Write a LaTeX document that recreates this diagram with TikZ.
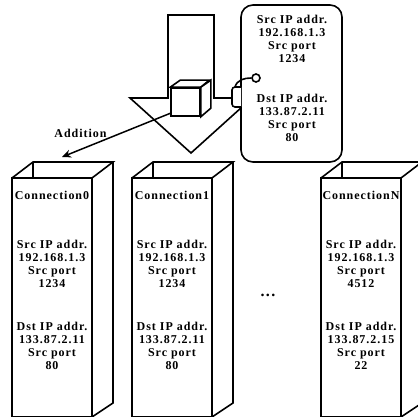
\documentclass[tikz,border=0pt]{standalone}
\usepackage{fontspec}
\usepackage{tikz}
\usetikzlibrary{arrows.meta, calc, positioning}
\newfontfamily\figfont{Liberation Serif}[LetterSpace=8]
\tikzset{
  boxline/.style    = {draw=black, line width=1.6pt, line join=miter},
  boxtext/.style    = {font=\figfont\bfseries\fontsize{12}{13.2}\selectfont,
                       align=center, inner sep=0pt},
  cubeface/.style   = {boxline, fill=white, inner sep=0pt},
  bubble/.style     = {boxline, fill=white, rounded corners=12pt, inner sep=0pt},
  pinhole/.style    = {circle, boxline, fill=white, minimum size=8pt, inner sep=0pt},
  addarrow/.style   = {draw=black, line width=1.5pt, -{Stealth[length=9pt, width=8pt]}},
}
\begin{document}
\begin{tikzpicture}[x=1pt, y=-1pt]
  \useasboundingbox (0,0) rectangle (418,417);
  \clip (0,0) rectangle (418,417);

  % connection boxes
  \foreach \bx/\nm/\sip/\sport/\dip/\dport in {
      12/0/192.168.1.3/1234/133.87.2.11/80,
      132/1/192.168.1.3/1234/133.87.2.11/80,
      321/N/192.168.1.3/4512/133.87.2.15/22}{
    \draw[boxline] (\bx,420) -- (\bx,178) -- (\bx+80,178) -- (\bx+80,420);
    \draw[boxline] (\bx,178) -- (\bx+21,162) -- (\bx+101,162) -- (\bx+80,178);
    \draw[boxline] (\bx+21,162) -- (\bx+21,178);
    \draw[boxline] (\bx+101,162) -- (\bx+101,403) -- (\bx+80,417);
    \draw[boxline] (\bx,417) -- (\bx+80,417);
    \node[boxtext] (title\nm) at (\bx+40,195) {Connection\nm};
    \node[boxtext] (src\nm) at (\bx+40,264)
      {Src IP addr.\\\sip\\Src port\\\sport};
    \node[boxtext] (dst\nm) at (\bx+40,346)
      {Dst IP addr.\\\dip\\Src port\\\dport};
  }
  \node[boxtext, font=\figfont\bfseries\fontsize{16}{16}\selectfont] (dots) at (268,295) {...};

  % big down arrow
  \draw[boxline] (168,15) -- (214,15) -- (214,98) -- (252,98) -- (191,153)
    -- (130,98) -- (168,98) -- cycle;

  % cube
  \node[cubeface, minimum width=29pt, minimum height=28pt] (cube) at (185.5,102) {};
  \draw[boxline, fill=white] (cube.north west) -- ++(10,-7) -- ++(29,0)
    -- (cube.north east) -- cycle;
  \draw[boxline, fill=white] (cube.north east) -- ++(10,-7) -- ++(0,28)
    -- (cube.south east) -- cycle;

  % packet bubble
  \node[bubble, minimum width=101pt, minimum height=157pt] (packet) at (291.5,83.5) {};
  \node[boxtext] (psrc) at (292,39) {Src IP addr.\\192.168.1.3\\Src port\\1234};
  \node[boxtext] (pdst) at (292,118) {Dst IP addr.\\133.87.2.11\\Src port\\80};

  % plug
  \draw[boxline, fill=white, rounded corners=3pt] (241,87) -- (232,87) -- (232,107) -- (241,107);
  \coordinate (plugtop) at (235,87);
  \node[pinhole] (pin) at (256,78) {};
  \draw[boxline] (plugtop) .. controls (237,80) and (244,78) .. (pin.west);

  % addition arrow
  \coordinate (cubeout) at (171,113);
  \coordinate (box0in) at (62,157);
  \draw[addarrow] (cubeout) -- node[boxtext, pos=0.83, above=11pt] (addlbl) {Addition} (box0in);
\end{tikzpicture}
\end{document}
